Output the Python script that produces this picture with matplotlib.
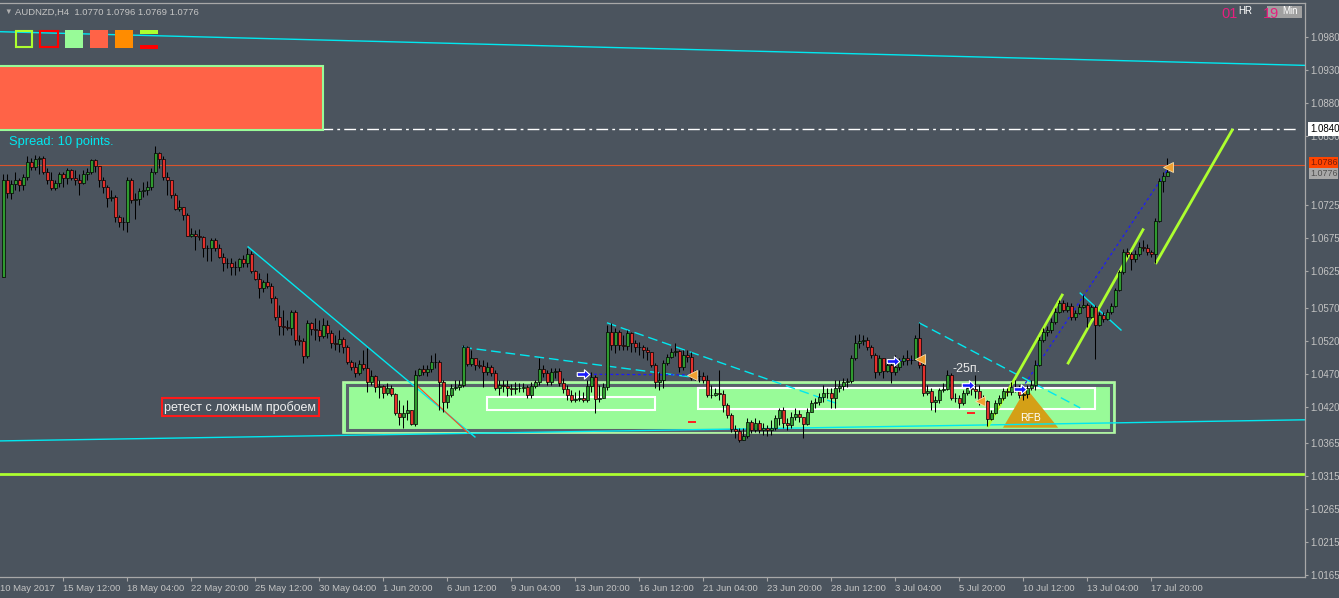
import matplotlib.pyplot as plt
import matplotlib.patches as mpatches
import numpy as np

plt.rcParams['font.family'] = ['Liberation Sans', 'DejaVu Sans']

# AUDNZD H4 candles (open of each bar = previous close)
first_open = 1.0617
closes = np.array([
    1.0763, 1.0743, 1.0758, 1.0763, 1.0756, 1.0768, 1.0791, 1.0783, 1.0795, 1.0796,
    1.0775, 1.0763, 1.0751, 1.0759, 1.0772, 1.0766, 1.0778, 1.0766, 1.0764, 1.0759,
    1.0772, 1.0776, 1.0793, 1.0784, 1.0764, 1.0753, 1.0736, 1.0737, 1.0707, 1.0699,
    1.0700, 1.0763, 1.0733, 1.0734, 1.0746, 1.0748, 1.0753, 1.0776, 1.0804, 1.0795,
    1.0768, 1.0764, 1.0741, 1.0720, 1.0723, 1.0710, 1.0679, 1.0682, 1.0678, 1.0677,
    1.0660, 1.0661, 1.0673, 1.0660, 1.0647, 1.0638, 1.0637, 1.0631, 1.0631, 1.0643,
    1.0637, 1.0651, 1.0625, 1.0613, 1.0599, 1.0609, 1.0602, 1.0584, 1.0555, 1.0542,
    1.0541, 1.0539, 1.0563, 1.0521, 1.0519, 1.0497, 1.0547, 1.0538, 1.0536, 1.0527,
    1.0544, 1.0531, 1.0516, 1.0515, 1.0522, 1.0510, 1.0488, 1.0480, 1.0471, 1.0485,
    1.0478, 1.0457, 1.0466, 1.0450, 1.0451, 1.0441, 1.0448, 1.0439, 1.0410, 1.0404,
    1.0410, 1.0415, 1.0394, 1.0468, 1.0477, 1.0472, 1.0477, 1.0488, 1.0488, 1.0457,
    1.0427, 1.0438, 1.0448, 1.0450, 1.0453, 1.0510, 1.0485, 1.0494, 1.0483, 1.0481,
    1.0472, 1.0480, 1.0471, 1.0448, 1.0453, 1.0451, 1.0448, 1.0447, 1.0448, 1.0448,
    1.0450, 1.0438, 1.0451, 1.0457, 1.0477, 1.0471, 1.0457, 1.0472, 1.0474, 1.0456,
    1.0447, 1.0438, 1.0430, 1.0431, 1.0433, 1.0430, 1.0451, 1.0465, 1.0431, 1.0433,
    1.0450, 1.0533, 1.0513, 1.0533, 1.0513, 1.0512, 1.0531, 1.0516, 1.0510, 1.0510,
    1.0506, 1.0503, 1.0483, 1.0457, 1.0460, 1.0486, 1.0495, 1.0503, 1.0504, 1.0480,
    1.0498, 1.0495, 1.0463, 1.0466, 1.0466, 1.0460, 1.0438, 1.0438, 1.0441, 1.0439,
    1.0422, 1.0407, 1.0386, 1.0383, 1.0369, 1.0375, 1.0397, 1.0385, 1.0395, 1.0385,
    1.0388, 1.0385, 1.0388, 1.0403, 1.0415, 1.0395, 1.0392, 1.0404, 1.0409, 1.0404,
    1.0394, 1.0412, 1.0425, 1.0427, 1.0435, 1.0441, 1.0441, 1.0433, 1.0448, 1.0451,
    1.0457, 1.0459, 1.0494, 1.0516, 1.0519, 1.0521, 1.0510, 1.0498, 1.0472, 1.0494,
    1.0474, 1.0483, 1.0472, 1.0480, 1.0489, 1.0494, 1.0491, 1.0491, 1.0524, 1.0483,
    1.0441, 1.0444, 1.0427, 1.0430, 1.0445, 1.0447, 1.0468, 1.0433, 1.0433, 1.0425,
    1.0441, 1.0448, 1.0447, 1.0444, 1.0427, 1.0428, 1.0401, 1.0410, 1.0425, 1.0433,
    1.0444, 1.0442, 1.0450, 1.0448, 1.0438, 1.0439, 1.0448, 1.0453, 1.0483, 1.0521,
    1.0533, 1.0536, 1.0548, 1.0563, 1.0577, 1.0566, 1.0572, 1.0556, 1.0562, 1.0571,
    1.0574, 1.0556, 1.0571, 1.0544, 1.0559, 1.0553, 1.0563, 1.0572, 1.0597, 1.0624,
    1.0654, 1.0651, 1.0644, 1.0651, 1.0662, 1.0660, 1.0654, 1.0651, 1.0701, 1.0762,
    1.0770, 1.0776])
highs = np.array([
    1.0772, 1.0773, 1.0763, 1.0775, 1.0767, 1.0773, 1.0800, 1.0796, 1.0801, 1.0800,
    1.0800, 1.0781, 1.0776, 1.0763, 1.0776, 1.0776, 1.0781, 1.0780, 1.0778, 1.0773,
    1.0778, 1.0781, 1.0795, 1.0795, 1.0785, 1.0768, 1.0756, 1.0748, 1.0741, 1.0710,
    1.0708, 1.0768, 1.0766, 1.0743, 1.0751, 1.0761, 1.0762, 1.0781, 1.0815, 1.0806,
    1.0799, 1.0775, 1.0761, 1.0743, 1.0733, 1.0723, 1.0714, 1.0690, 1.0688, 1.0689,
    1.0678, 1.0665, 1.0675, 1.0675, 1.0667, 1.0652, 1.0645, 1.0645, 1.0640, 1.0645,
    1.0650, 1.0661, 1.0655, 1.0627, 1.0622, 1.0612, 1.0622, 1.0607, 1.0587, 1.0574,
    1.0566, 1.0551, 1.0566, 1.0566, 1.0528, 1.0524, 1.0551, 1.0548, 1.0554, 1.0551,
    1.0554, 1.0551, 1.0536, 1.0528, 1.0536, 1.0525, 1.0513, 1.0491, 1.0488, 1.0491,
    1.0506, 1.0509, 1.0475, 1.0468, 1.0460, 1.0453, 1.0456, 1.0453, 1.0441, 1.0430,
    1.0422, 1.0430, 1.0415, 1.0475, 1.0478, 1.0483, 1.0483, 1.0498, 1.0501, 1.0491,
    1.0460, 1.0445, 1.0454, 1.0460, 1.0460, 1.0513, 1.0512, 1.0506, 1.0494, 1.0491,
    1.0491, 1.0488, 1.0483, 1.0475, 1.0460, 1.0460, 1.0460, 1.0454, 1.0457, 1.0456,
    1.0456, 1.0453, 1.0457, 1.0460, 1.0494, 1.0483, 1.0475, 1.0478, 1.0478, 1.0478,
    1.0463, 1.0453, 1.0445, 1.0442, 1.0445, 1.0442, 1.0460, 1.0472, 1.0468, 1.0453,
    1.0456, 1.0544, 1.0547, 1.0539, 1.0536, 1.0528, 1.0536, 1.0533, 1.0521, 1.0518,
    1.0513, 1.0510, 1.0503, 1.0486, 1.0472, 1.0491, 1.0500, 1.0509, 1.0516, 1.0506,
    1.0506, 1.0506, 1.0503, 1.0475, 1.0475, 1.0472, 1.0468, 1.0453, 1.0448, 1.0475,
    1.0445, 1.0425, 1.0410, 1.0392, 1.0388, 1.0388, 1.0403, 1.0400, 1.0403, 1.0400,
    1.0395, 1.0392, 1.0400, 1.0407, 1.0418, 1.0419, 1.0403, 1.0412, 1.0418, 1.0415,
    1.0404, 1.0418, 1.0430, 1.0433, 1.0441, 1.0453, 1.0448, 1.0448, 1.0460, 1.0460,
    1.0463, 1.0463, 1.0498, 1.0528, 1.0530, 1.0528, 1.0525, 1.0513, 1.0501, 1.0498,
    1.0494, 1.0491, 1.0491, 1.0498, 1.0494, 1.0498, 1.0506, 1.0498, 1.0528, 1.0547,
    1.0486, 1.0453, 1.0448, 1.0436, 1.0448, 1.0456, 1.0475, 1.0471, 1.0441, 1.0438,
    1.0445, 1.0456, 1.0457, 1.0468, 1.0453, 1.0438, 1.0430, 1.0415, 1.0430, 1.0438,
    1.0448, 1.0448, 1.0457, 1.0460, 1.0453, 1.0448, 1.0453, 1.0460, 1.0491, 1.0525,
    1.0539, 1.0542, 1.0554, 1.0569, 1.0581, 1.0581, 1.0578, 1.0577, 1.0566, 1.0575,
    1.0589, 1.0577, 1.0574, 1.0574, 1.0563, 1.0563, 1.0568, 1.0577, 1.0600, 1.0627,
    1.0659, 1.0660, 1.0654, 1.0657, 1.0669, 1.0672, 1.0666, 1.0657, 1.0706, 1.0766,
    1.0775, 1.0796])
lows = np.array([
    1.0616, 1.0736, 1.0734, 1.0748, 1.0746, 1.0748, 1.0763, 1.0778, 1.0779, 1.0773,
    1.0773, 1.0758, 1.0748, 1.0748, 1.0753, 1.0753, 1.0758, 1.0763, 1.0756, 1.0741,
    1.0758, 1.0763, 1.0773, 1.0776, 1.0753, 1.0743, 1.0723, 1.0731, 1.0700, 1.0692,
    1.0688, 1.0685, 1.0728, 1.0704, 1.0726, 1.0738, 1.0741, 1.0748, 1.0773, 1.0781,
    1.0764, 1.0741, 1.0736, 1.0718, 1.0717, 1.0703, 1.0678, 1.0677, 1.0657, 1.0673,
    1.0646, 1.0641, 1.0640, 1.0655, 1.0645, 1.0625, 1.0630, 1.0620, 1.0620, 1.0625,
    1.0632, 1.0632, 1.0622, 1.0612, 1.0584, 1.0594, 1.0599, 1.0577, 1.0551, 1.0528,
    1.0528, 1.0536, 1.0528, 1.0513, 1.0513, 1.0486, 1.0494, 1.0528, 1.0521, 1.0519,
    1.0524, 1.0524, 1.0509, 1.0506, 1.0503, 1.0501, 1.0485, 1.0475, 1.0465, 1.0468,
    1.0475, 1.0442, 1.0453, 1.0442, 1.0433, 1.0433, 1.0438, 1.0436, 1.0407, 1.0392,
    1.0388, 1.0400, 1.0392, 1.0391, 1.0466, 1.0468, 1.0466, 1.0472, 1.0478, 1.0415,
    1.0412, 1.0418, 1.0435, 1.0445, 1.0445, 1.0450, 1.0481, 1.0481, 1.0475, 1.0478,
    1.0450, 1.0468, 1.0466, 1.0445, 1.0438, 1.0442, 1.0436, 1.0438, 1.0439, 1.0442,
    1.0442, 1.0433, 1.0433, 1.0448, 1.0453, 1.0465, 1.0453, 1.0453, 1.0463, 1.0451,
    1.0441, 1.0430, 1.0427, 1.0427, 1.0428, 1.0427, 1.0427, 1.0442, 1.0410, 1.0427,
    1.0433, 1.0445, 1.0506, 1.0501, 1.0506, 1.0506, 1.0506, 1.0503, 1.0503, 1.0498,
    1.0494, 1.0491, 1.0480, 1.0448, 1.0445, 1.0448, 1.0483, 1.0494, 1.0497, 1.0472,
    1.0475, 1.0488, 1.0460, 1.0460, 1.0457, 1.0456, 1.0435, 1.0433, 1.0436, 1.0430,
    1.0412, 1.0403, 1.0381, 1.0372, 1.0366, 1.0369, 1.0372, 1.0380, 1.0381, 1.0380,
    1.0377, 1.0375, 1.0377, 1.0385, 1.0392, 1.0388, 1.0385, 1.0388, 1.0400, 1.0397,
    1.0372, 1.0392, 1.0412, 1.0418, 1.0422, 1.0427, 1.0433, 1.0418, 1.0418, 1.0442,
    1.0445, 1.0450, 1.0456, 1.0491, 1.0509, 1.0513, 1.0506, 1.0494, 1.0463, 1.0468,
    1.0463, 1.0472, 1.0456, 1.0468, 1.0475, 1.0483, 1.0483, 1.0485, 1.0491, 1.0478,
    1.0436, 1.0438, 1.0415, 1.0412, 1.0425, 1.0442, 1.0445, 1.0430, 1.0427, 1.0418,
    1.0422, 1.0438, 1.0438, 1.0433, 1.0422, 1.0422, 1.0391, 1.0400, 1.0409, 1.0422,
    1.0430, 1.0436, 1.0438, 1.0442, 1.0433, 1.0430, 1.0433, 1.0445, 1.0445, 1.0481,
    1.0518, 1.0527, 1.0531, 1.0545, 1.0562, 1.0563, 1.0563, 1.0551, 1.0551, 1.0560,
    1.0569, 1.0541, 1.0554, 1.0492, 1.0542, 1.0548, 1.0551, 1.0560, 1.0571, 1.0595,
    1.0621, 1.0647, 1.0627, 1.0639, 1.0648, 1.0656, 1.0650, 1.0647, 1.0638, 1.0700,
    1.0745, 1.0769])

time_labels = ['10 May 2017', '15 May 12:00', '18 May 04:00', '22 May 20:00', '25 May 12:00',
               '30 May 04:00', '1 Jun 20:00', '6 Jun 12:00', '9 Jun 04:00', '13 Jun 20:00',
               '16 Jun 12:00', '21 Jun 04:00', '23 Jun 20:00', '28 Jun 12:00', '3 Jul 04:00',
               '5 Jul 20:00', '10 Jul 12:00', '13 Jul 04:00', '17 Jul 20:00']
label_bars = np.arange(len(time_labels)) * 16 - 1
price_ticks = [1.0980, 1.0930, 1.0880, 1.0830, 1.0725, 1.0675, 1.0625, 1.0570,
               1.0520, 1.0470, 1.0420, 1.0365, 1.0315, 1.0265, 1.0215, 1.0165]

# objects drawn on the chart: (bar, price)
cyan_lines = [[(-0.8, 1.0988), (325.4, 1.0937)], [(-0.8, 1.0368), (325.4, 1.0400)],
              [(61.2, 1.0662), (117.9, 1.0374)], [(269.2, 1.0592), (279.4, 1.0536)]]
cyan_dashed = [[(114.7, 1.0510), (171.7, 1.0465)], [(150.9, 1.0547), (208.7, 1.0424)],
               [(228.9, 1.0547), (269.2, 1.0418)]]
lime_lines = [[(246.2, 1.0391), (264.7, 1.0589)], [(266.2, 1.0486), (284.9, 1.0688)],
              [(288.2, 1.0638), (307.2, 1.0839)]]
blue_dashed = [[(144.9, 1.0469), (172.2, 1.0468)], [(222.4, 1.0489), (229.2, 1.0492)],
               [(254.7, 1.0448), (290.9, 1.0778)]]
red_line = [(103.2, 1.0453), (116.2, 1.0380)]
target_level = 1.0840
alert_level = 1.0786
support_level = 1.0318
zone = [(84.8, 1.0380), (277.8, 1.0457)]
zone_inner = [(85.8, 1.0385), (276.8, 1.0452)]
white_boxes = [[(120.9, 1.0415), (162.9, 1.0435)], [(173.7, 1.0416), (272.9, 1.0448)]]
rfb_triangle = [(249.9, 1.0388), (255.7, 1.0448), (263.7, 1.0388)]
blue_arrow_x = [144.9, 222.4, 241.2, 254.2]
blue_arrow_y = [1.0469, 1.0489, 1.0453, 1.0447]
orange_x = [172.2, 229.2, 244.2, 291.2]
orange_y = [1.0468, 1.0492, 1.0429, 1.0783]
red_tick_x = [172.2, 241.9]
red_tick_y = [1.0397, 1.0410]

BG = '#4b545e'
CYAN = '#00e8f0'
LIME = '#adff2f'
GREY_TXT = '#c4c4c4'

W, H = 1339, 598
fig = plt.figure(figsize=(W / 100, H / 100), dpi=100)
fig.patch.set_facecolor(BG)
ax = fig.add_axes([0, 21 / H, 1305 / W, 574 / H])
ax.set_facecolor(BG)
ax.set_xlim(-0.825, 325.4)
ax.set_ylim(1.01618, 1.10315)

# zone and boxes
(zx0, zy0), (zx1, zy1) = zone
ax.add_patch(mpatches.Rectangle((zx0, zy0), zx1 - zx0, zy1 - zy0, fc='#98fb98', ec='#b6f7a6', lw=1.2, zorder=1))
(ix0, iy0), (ix1, iy1) = zone_inner
ax.add_patch(mpatches.Rectangle((ix0, iy0), ix1 - ix0, iy1 - iy0, fill=False, ec='#59626b', lw=2.2, zorder=1.1))
for (bx0, by0), (bx1, by1) in white_boxes:
    ax.add_patch(mpatches.Rectangle((bx0, by0), bx1 - bx0, by1 - by0, fill=False, ec='white', lw=1.5, zorder=1.3))
ax.add_patch(mpatches.Polygon(rfb_triangle, closed=True, fc='#d4a017', ec='none', zorder=1.5))
ax.text(256.9, 1.0403, 'RFB', color='white', fontsize=7.5, ha='center', va='center', zorder=6)

# levels
ax.axhline(support_level, color=LIME, lw=2.0, zorder=2)
ax.axhline(alert_level, color='#d9542c', lw=0.8, zorder=2)
ax.plot([-0.8, 324.0], [target_level, target_level], color='white', lw=1.0,
        dashes=(8.5, 3, 2, 3), zorder=2)

for (x0, p0), (x1, p1) in cyan_lines:
    ax.plot([x0, x1], [p0, p1], color=CYAN, lw=1.0, zorder=2)
for (x0, p0), (x1, p1) in cyan_dashed:
    ax.plot([x0, x1], [p0, p1], color=CYAN, lw=1.0, dashes=(7, 3.5), zorder=2)
for (x0, p0), (x1, p1) in lime_lines:
    ax.plot([x0, x1], [p0, p1], color=LIME, lw=2.0, zorder=2)
for (x0, p0), (x1, p1) in blue_dashed:
    ax.plot([x0, x1], [p0, p1], color='#1a1aff', lw=0.9, dashes=(2.2, 2.2), zorder=2)
ax.plot([red_line[0][0], red_line[1][0]], [red_line[0][1], red_line[1][1]], color='#ff4a1a', lw=0.8, zorder=2)

# candles
x = np.arange(len(closes))
opens = np.concatenate([[first_open], closes[:-1]])
up = closes >= opens
ax.vlines(x, lows, highs, color='black', lw=0.75, zorder=3)
ax.bar(x[up], closes[up] - opens[up], bottom=opens[up], width=0.72, color='#2f9a2f',
       edgecolor='black', lw=0.5, zorder=3.5)
ax.bar(x[~up], closes[~up] - opens[~up], bottom=opens[~up], width=0.72, color='#e3302c',
       edgecolor='black', lw=0.5, zorder=3.5)

# markers
arrow = [(-1, -0.3), (0.15, -0.3), (0.15, -0.75), (1, 0), (0.15, 0.75), (0.15, 0.3), (-1, 0.3), (-1, -0.3)]
ax.plot(blue_arrow_x, blue_arrow_y, ls='none', marker=arrow, ms=9, mfc='#1a1aff', mec='white', mew=0.8, zorder=7)
ax.plot(orange_x, orange_y, ls='none', marker='<', ms=6.5, mfc='#f0a030', mec='#f5e0b0', mew=0.6, zorder=7)
ax.plot(red_tick_x, red_tick_y, ls='none', marker='_', ms=5.5, mec='#ff2020', mew=1.4, zorder=7)
ax.text(240.9, 1.0477, '-25п.', color='#e8e8e8', fontsize=9, ha='center', va='center', zorder=7)
ax.text(59.2, 1.0419, 'ретест с ложным пробоем', color='#f0f0f0', fontsize=9, ha='center', va='center',
        zorder=7, bbox=dict(boxstyle='square,pad=0.2', fc=BG, ec='#ff1a1a', lw=1.5))

# axes styling
ax.spines['left'].set_visible(False)
for side in ['top', 'right', 'bottom']:
    ax.spines[side].set_color('#a8a8a8')
    ax.spines[side].set_linewidth(0.9)
ax.yaxis.tick_right()
ax.set_yticks(price_ticks, labels=[f'{p:.4f}' for p in price_ticks])
ax.tick_params(axis='y', colors='#a8a8a8', labelcolor=GREY_TXT, labelsize=7, length=2.5, pad=1.5)
ax.set_xticks(label_bars[1:], labels=time_labels[1:])
for t in ax.get_xticklabels():
    t.set_horizontalalignment('left')
ax.tick_params(axis='x', colors='#a8a8a8', labelcolor=GREY_TXT, labelsize=6.8, length=3, pad=2)
ax.annotate(time_labels[0], xy=(-0.8, 0), xycoords=('data', 'axes fraction'), xytext=(0, -5),
            textcoords='offset points', ha='left', va='top', fontsize=6.8, color=GREY_TXT)

# price boxes on the scale
ax.annotate(f'{target_level:.4f}', xy=(1, target_level), xycoords=('axes fraction', 'data'),
            xytext=(3.5, 0), textcoords='offset points', ha='left', va='center', fontsize=7,
            color='black', annotation_clip=False, zorder=20,
            bbox=dict(boxstyle='square,pad=0.2', fc='white', ec='none'))
ax.annotate(f'{alert_level:.4f}', xy=(1, alert_level), xycoords=('axes fraction', 'data'),
            xytext=(3.5, 1.6), textcoords='offset points', ha='left', va='center', fontsize=6.4,
            color='#7a1a08', annotation_clip=False, zorder=20,
            bbox=dict(boxstyle='square,pad=0.1', fc='#ff4500', ec='none'))
ax.annotate(f'{closes[-1]:.4f}', xy=(1, closes[-1]), xycoords=('axes fraction', 'data'),
            xytext=(3.5, -1.6), textcoords='offset points', ha='left', va='center', fontsize=6.4,
            color='#505050', annotation_clip=False, zorder=21,
            bbox=dict(boxstyle='square,pad=0.1', fc='#a8a8a8', ec='none'))


# screen overlays, placed in figure pixels
def fig_box(x0, y0, x1, y1, **kw):
    fig.add_artist(mpatches.Rectangle((x0 / W, 1 - y1 / H), (x1 - x0) / W, (y1 - y0) / H,
                                      transform=fig.transFigure, **kw))


def fig_text(px, py, s, **kw):
    fig.text(px / W, 1 - py / H, s, **kw)


fig_text(4, 12, '▼', color='#b0b0b0', fontsize=5.5, va='center')
fig_text(15, 12, f'AUDNZD,H4  {opens[-1]:.4f} {highs[-1]:.4f} {lows[-1]:.4f} {closes[-1]:.4f}',
         color=GREY_TXT, fontsize=6.8, va='center')

fig_box(16, 31, 32, 47, fill=False, ec=LIME, lw=1.5)
fig_box(40, 31, 58, 47, fill=False, ec='#ff0000', lw=1.5)
fig_box(65, 30, 83, 48, fc='#98fb98', ec='none')
fig_box(90, 30, 108, 48, fc='#ff6347', ec='none')
fig_box(115, 30, 133, 48, fc='#ff8c00', ec='none')
fig_box(140, 30, 158, 33.5, fc=LIME, ec='none')
fig_box(140, 45, 158, 48.5, fc='#ff0000', ec='none')
fig_box(-2, 66, 323, 130, fc='#ff6347', ec='#98fb98', lw=1.5)
fig_text(9, 142.5, 'Spread: 10 points.', color=CYAN, fontsize=9.3, va='center')

fig_box(1267, 6, 1302, 17.5, fc='#a0a0a0', ec='none')
fig_text(1221, 14, '01', color='#e6207f', fontsize=10.5, va='center')
fig_text(1238, 11.5, 'HR', color='white', fontsize=7, va='center')
fig_text(1263, 14, '19', color='#e6207f', fontsize=10.5, va='center')
fig_text(1290, 11.5, 'Min', color='white', fontsize=7, va='center', ha='center')

fig.savefig('out.png', dpi=100, facecolor=BG)
